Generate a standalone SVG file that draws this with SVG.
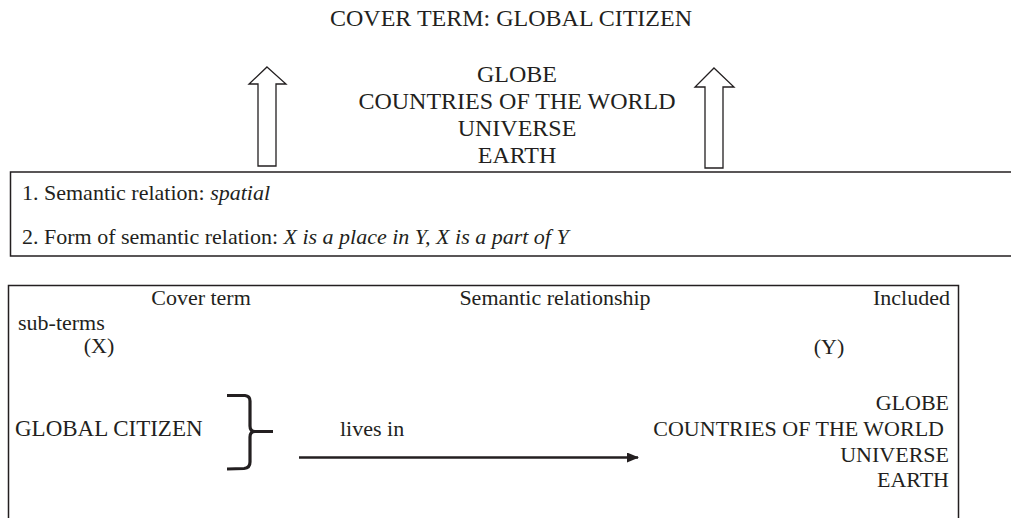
<svg xmlns="http://www.w3.org/2000/svg" width="1011" height="518" viewBox="0 0 1011 518">
<style>
text{font-family:'Liberation Serif','DejaVu Serif','Times New Roman',serif;font-size:22px;fill:#231f20}
.big{font-size:24px}
.box{fill:none;stroke:#231f20;stroke-width:1.5}
.harrow{fill:#fff;stroke:#231f20;stroke-width:1.3;stroke-linejoin:miter}
.it{font-style:italic}
</style>
<defs>
<marker id="ah" markerWidth="12" markerHeight="10" refX="11" refY="5" orient="auto" markerUnits="userSpaceOnUse">
<path d="M0,0 L12,5 L0,10 Z" fill="#231f20"/>
</marker>
</defs>
<rect width="1011" height="518" fill="#fff"/>
<g id="title"><text class="big" x="511" y="26" text-anchor="middle">COVER TERM: GLOBAL CITIZEN</text></g>
<g id="top-terms" text-anchor="middle">
<text class="big" x="517" y="82">GLOBE</text>
<text class="big" x="517" y="109">COUNTRIES OF THE WORLD</text>
<text class="big" x="517" y="136">UNIVERSE</text>
<text class="big" x="517" y="163">EARTH</text>
</g>
<g id="arrow-left"><path class="harrow" d="M267,67 L286,84 L276,84 L276,166 L258,166 L258,84 L249,84 Z"/></g>
<g id="arrow-right"><path class="harrow" d="M714,68 L734,87 L723,87 L723,168 L705,168 L705,87 L695,87 Z"/></g>
<g id="relation-box">
<path class="box" d="M1012,172 L10.5,172 L10.5,256 L1012,256"/>
<text x="22" y="200">1. Semantic relation: <tspan class="it">spatial</tspan></text>
<text x="22" y="244">2. Form of semantic relation: <tspan class="it">X is a place in Y, X is a part of Y</tspan></text>
</g>
<g id="table-box">
<path class="box" d="M8.5,520 L8.5,285.5 L958.5,285.5 L958.5,520"/>
<text x="201" y="305" text-anchor="middle">Cover term</text>
<text x="555" y="305" text-anchor="middle">Semantic relationship</text>
<text x="950" y="305" text-anchor="end">Included</text>
<text x="18" y="330">sub-terms</text>
<text x="99" y="353" text-anchor="middle">(X)</text>
<text x="829" y="354" text-anchor="middle">(Y)</text>
</g>
<g id="node-x"><text x="15" y="436" style="font-size:23px">GLOBAL CITIZEN</text></g>
<g id="node-y" text-anchor="end">
<text x="949" y="410">GLOBE</text>
<text x="944" y="436">COUNTRIES OF THE WORLD</text>
<text x="949" y="462">UNIVERSE</text>
<text x="949" y="487">EARTH</text>
</g>
<g id="connectors">
<path d="M227,395.5 L245,395.5 Q250,396 250,401 L250,426 Q250,431.5 255,431.5 L273,431.5 M255,431.5 Q250,431.5 250,437 L250,462 Q250,468 244,468.5 L227,469" fill="none" stroke="#231f20" stroke-width="3.2"/>
<line x1="299" y1="457.5" x2="638" y2="457.5" stroke="#231f20" stroke-width="2.5" marker-end="url(#ah)"/>
<text x="340" y="436">lives in</text>
</g>
</svg>
